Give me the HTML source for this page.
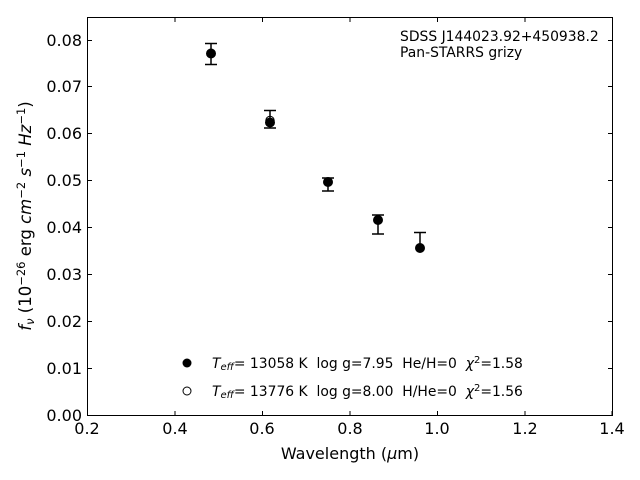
<!DOCTYPE html>
<html><head><meta charset="utf-8"><style>
html,body{margin:0;padding:0;background:#fff;}
svg{display:block;font-family:"DejaVu Sans","Liberation Sans",sans-serif;}
text{white-space:pre;}
</style></head><body>
<svg width="640" height="480" viewBox="0 0 640 480" xmlns="http://www.w3.org/2000/svg" xml:space="preserve">
<rect x="0" y="0" width="640" height="480" fill="#fff"/>
<rect x="87.5" y="17.5" width="525" height="398" fill="none" stroke="#000" stroke-width="1"/>
<g stroke="#000" stroke-width="1">
<line x1="87.5" y1="415" x2="87.5" y2="411"/><line x1="175" y1="415" x2="175" y2="411"/><line x1="262.5" y1="415" x2="262.5" y2="411"/><line x1="350" y1="415" x2="350" y2="411"/><line x1="437.5" y1="415" x2="437.5" y2="411"/><line x1="525" y1="415" x2="525" y2="411"/><line x1="612" y1="415" x2="612" y2="411"/>
<line x1="175" y1="18" x2="175" y2="22"/><line x1="262.5" y1="18" x2="262.5" y2="22"/><line x1="350" y1="18" x2="350" y2="22"/><line x1="437.5" y1="18" x2="437.5" y2="22"/><line x1="525" y1="18" x2="525" y2="22"/>
<line x1="88" y1="415.5" x2="92" y2="415.5"/><line x1="88" y1="368.5" x2="92" y2="368.5"/><line x1="88" y1="321.5" x2="92" y2="321.5"/><line x1="88" y1="274.5" x2="92" y2="274.5"/><line x1="88" y1="227.5" x2="92" y2="227.5"/><line x1="88" y1="180.5" x2="92" y2="180.5"/><line x1="88" y1="133.5" x2="92" y2="133.5"/><line x1="88" y1="86.5" x2="92" y2="86.5"/><line x1="88" y1="40.5" x2="92" y2="40.5"/>
<line x1="612" y1="368.5" x2="608" y2="368.5"/><line x1="612" y1="321.5" x2="608" y2="321.5"/><line x1="612" y1="274.5" x2="608" y2="274.5"/><line x1="612" y1="227.5" x2="608" y2="227.5"/><line x1="612" y1="180.5" x2="608" y2="180.5"/><line x1="612" y1="133.5" x2="608" y2="133.5"/><line x1="612" y1="86.5" x2="608" y2="86.5"/><line x1="612" y1="40.5" x2="608" y2="40.5"/>
</g>
<g font-size="16" fill="#000" text-anchor="middle">
<text x="87" y="434">0.2</text><text x="175" y="434">0.4</text><text x="262" y="434">0.6</text><text x="350" y="434">0.8</text><text x="437" y="434">1.0</text><text x="525" y="434">1.2</text><text x="612" y="434">1.4</text>
</g>
<g font-size="16" fill="#000" text-anchor="end">
<text x="82" y="421">0.00</text><text x="82" y="374">0.01</text><text x="82" y="327">0.02</text><text x="82" y="280">0.03</text><text x="82" y="233">0.04</text><text x="82" y="186">0.05</text><text x="82" y="139">0.06</text><text x="82" y="92">0.07</text><text x="82" y="46">0.08</text>
</g>
<text x="350" y="459" font-size="16" text-anchor="middle">Wavelength (<tspan font-style="italic">μ</tspan>m)</text>
<text transform="translate(31,216) rotate(-90)" font-size="16.5" text-anchor="middle"><tspan font-style="italic">f<tspan font-size="11.5" dy="3">ν</tspan></tspan><tspan dy="-3"> (10</tspan><tspan font-size="11.5" dy="-6">−26</tspan><tspan dy="6"> erg </tspan><tspan font-style="italic">cm</tspan><tspan font-size="11.5" dy="-6">−2</tspan><tspan dy="6"> </tspan><tspan font-style="italic">s</tspan><tspan font-size="11.5" dy="-6">−1</tspan><tspan dy="6"> </tspan><tspan font-style="italic">Hz</tspan><tspan font-size="11.5" dy="-6">−1</tspan><tspan dy="6">)</tspan></text>
<text x="400" y="41" font-size="13.9">SDSS J144023.92+450938.2</text>
<text x="400" y="57" font-size="13.9">Pan-STARRS grizy</text>
<g stroke="#000" stroke-width="1.5">
<line x1="211" y1="43.5" x2="211" y2="64.5"/><line x1="205" y1="43.5" x2="217" y2="43.5"/><line x1="205" y1="64.5" x2="217" y2="64.5"/>
<line x1="270" y1="110.5" x2="270" y2="128"/><line x1="264" y1="110.5" x2="276" y2="110.5"/><line x1="264" y1="128" x2="276" y2="128"/>
<line x1="328" y1="178" x2="328" y2="191"/><line x1="322" y1="178" x2="334" y2="178"/><line x1="322" y1="191" x2="334" y2="191"/>
<line x1="378" y1="215" x2="378" y2="234"/><line x1="372" y1="215" x2="384" y2="215"/><line x1="372" y1="234" x2="384" y2="234"/>
<line x1="420" y1="232.5" x2="420" y2="248"/><line x1="414" y1="232.5" x2="426" y2="232.5"/>
</g>
<g fill="#000">
<circle cx="211" cy="53.5" r="5"/><circle cx="270" cy="122.5" r="5"/><circle cx="328" cy="182" r="5"/><circle cx="378" cy="220" r="5"/><circle cx="420" cy="248" r="5"/>
</g>
<circle cx="270" cy="120.5" r="4.2" fill="none" stroke="#000" stroke-width="1"/>
<circle cx="187" cy="363" r="4.5" fill="#000"/>
<circle cx="187" cy="391" r="4" fill="none" stroke="#000" stroke-width="1"/>
<text x="212" y="368" font-size="13.9"><tspan font-style="italic">T<tspan font-size="10" dy="2">eff</tspan></tspan><tspan dy="-2">= 13058 K  log g=7.95  He/H=0  </tspan><tspan font-style="italic">χ</tspan><tspan font-size="10" dy="-5">2</tspan><tspan dy="5">=1.58</tspan></text>
<text x="212" y="396" font-size="13.9"><tspan font-style="italic">T<tspan font-size="10" dy="2">eff</tspan></tspan><tspan dy="-2">= 13776 K  log g=8.00  H/He=0  </tspan><tspan font-style="italic">χ</tspan><tspan font-size="10" dy="-5">2</tspan><tspan dy="5">=1.56</tspan></text>
</svg>
</body></html>
